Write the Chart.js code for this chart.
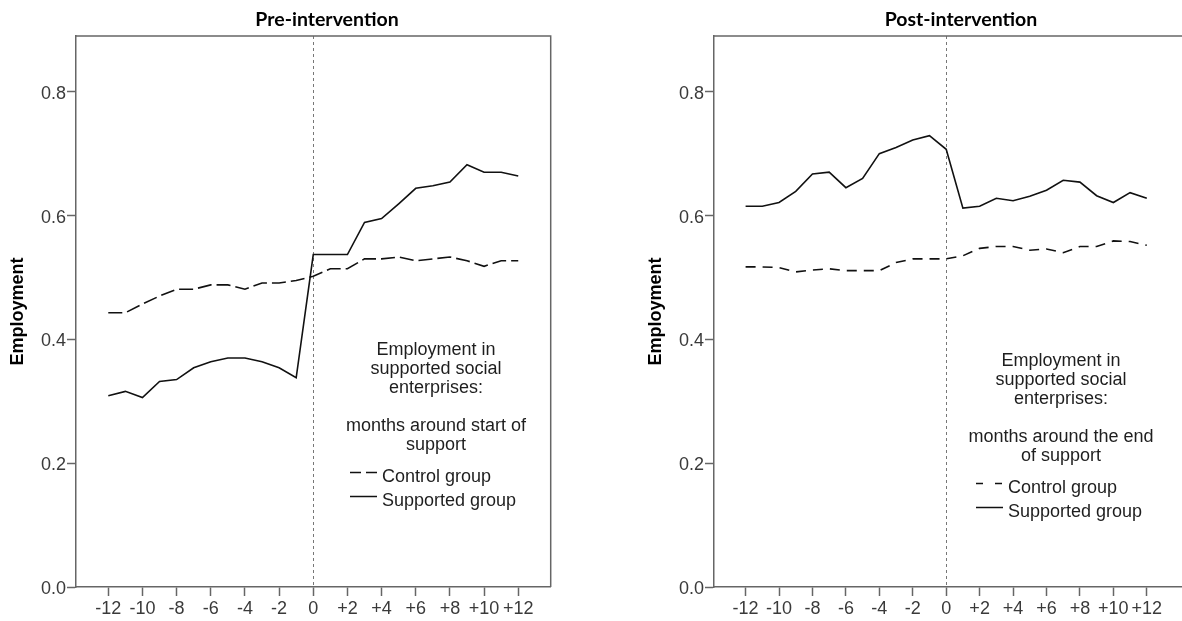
<!DOCTYPE html>
<html><head><meta charset="utf-8">
<script src="https://cdn.jsdelivr.net/npm/chart.js@4.4.1/dist/chart.umd.min.js"></script>
<style>
html,body{margin:0;padding:0;background:#fff;overflow:hidden;width:1182px;height:621px;}
.wrap{position:absolute;top:0;width:591px;height:621px;}
#w1{left:0;}
#w2{left:591px;}
canvas{display:block;}
</style></head><body>
<div class="wrap" id="w1"><canvas id="c1" width="591" height="621"></canvas></div>
<div class="wrap" id="w2"><canvas id="c2" width="591" height="621"></canvas></div>
<script>
// ---- data ----
const months = [-12,-11,-10,-9,-8,-7,-6,-5,-4,-3,-2,-1,0,1,2,3,4,5,6,7,8,9,10,11,12];
const xTickValues = [-12,-10,-8,-6,-4,-2,0,2,4,6,8,10,12];
const xTickLabels = ['-12','-10','-8','-6','-4','-2','0','+2','+4','+6','+8','+10','+12'];
const yTickValues = [0,0.2,0.4,0.6,0.8];
const yTickLabels = ['0.0','0.2','0.4','0.6','0.8'];
const seriesNames = ['Control group','Supported group'];

const preControl   = [0.443,0.443,0.457,0.470,0.481,0.481,0.488,0.488,0.481,0.491,0.491,0.495,0.502,0.514,0.514,0.530,0.530,0.533,0.527,0.530,0.533,0.527,0.518,0.527,0.527];
const preSupported = [0.309,0.316,0.306,0.332,0.335,0.354,0.364,0.370,0.370,0.364,0.354,0.338,0.537,0.537,0.537,0.589,0.595,0.619,0.644,0.648,0.654,0.682,0.670,0.670,0.664];
const postControl   = [0.517,0.517,0.516,0.509,0.512,0.514,0.511,0.511,0.511,0.524,0.530,0.530,0.530,0.535,0.547,0.550,0.550,0.544,0.546,0.540,0.550,0.550,0.559,0.558,0.552];
const postSupported = [0.615,0.615,0.621,0.639,0.667,0.670,0.645,0.660,0.700,0.710,0.722,0.729,0.707,0.612,0.615,0.628,0.624,0.631,0.641,0.657,0.654,0.632,0.621,0.637,0.628];

const preTitle = 'Pre-intervention';
const postTitle = 'Post-intervention';
const yTitle = 'Employment';
const preLegendTitle = ['Employment in','supported social','enterprises:','','months around start of','support'];
const postLegendTitle = ['Employment in','supported social','enterprises:','','months around the end','of support'];

// ---- styling ----
const AXIS = '#666';
const TXT = '#3a3a3a';
const LINE = '#111';
const SANS = "'Liberation Sans', Arial, sans-serif";

const boxPlugin = {
  id: 'boxAndRef',
  beforeDatasetsDraw(chart, args, o) {
    const {ctx, chartArea: a, scales} = chart;
    ctx.save();
    // reference line at month 0
    const x0 = scales.x.getPixelForValue(0);
    ctx.strokeStyle = '#777'; ctx.lineWidth = 1; ctx.setLineDash([3,3]);
    ctx.beginPath(); ctx.moveTo(Math.round(x0)+0.5, a.top); ctx.lineTo(Math.round(x0)+0.5, a.bottom); ctx.stroke();
    ctx.setLineDash([]);
    ctx.strokeStyle = AXIS; ctx.lineWidth = 1.5;
    ctx.beginPath();
    ctx.moveTo(a.left, a.top); ctx.lineTo(a.right + (o.rightSide ? 0 : 2), a.top);
    if (o.rightSide) ctx.lineTo(a.right, a.bottom);
    ctx.stroke();
    ctx.restore();
  },
  afterDraw(chart, args, o) {
    const ctx = chart.ctx;
    ctx.save();
    // chart title
    ctx.fillStyle = '#000';
    ctx.font = "bold 19.5px Lato, 'Open Sans', sans-serif";
    ctx.textAlign = 'center'; ctx.textBaseline = 'alphabetic';
    ctx.fillText(o.title, o.titleX, 26);
    // legend block
    ctx.fillStyle = '#1e1e1e';
    ctx.font = '18px ' + SANS;
    o.legendLines.forEach((t, i) => { if (t) ctx.fillText(t, o.legX, o.legY + i * o.legGap); });
    ctx.textAlign = 'left';
    chart.data.datasets.forEach((ds, i) => {
      const by = o.itemY + i * 24;
      ctx.strokeStyle = ds.borderColor; ctx.lineWidth = 1.5;
      ctx.setLineDash(ds.borderDash && ds.borderDash.length ? o.sampleDash : []);
      ctx.beginPath(); ctx.moveTo(o.sampleX, by - 9.5); ctx.lineTo(o.sampleX + 27, by - 9.5); ctx.stroke();
      ctx.setLineDash([]);
      ctx.fillText(ds.label, o.sampleX + 32, by);
    });
    ctx.restore();
  }
};

function makeChart(id, control, supported, cfg) {
  const toXY = arr => months.map((m, i) => ({x: m, y: arr[i]}));
  return new Chart(document.getElementById(id), {
    type: 'line',
    data: {
      datasets: [
        {label: seriesNames[0], data: toXY(control), borderColor: LINE, borderWidth: 1.6, borderDash: cfg.dash, pointRadius: 0, tension: 0, fill: false},
        {label: seriesNames[1], data: toXY(supported), borderColor: LINE, borderWidth: 1.6, pointRadius: 0, tension: 0, fill: false}
      ]
    },
    options: {
      responsive: false, animation: false, devicePixelRatio: 1, events: [],
      layout: {padding: {left: 0, right: cfg.padRight, top: 36, bottom: 0}},
      plugins: {
        legend: {display: false}, tooltip: {enabled: false}, title: {display: false},
        boxAndRef: cfg.plugin
      },
      scales: {
        x: {
          type: 'linear', min: cfg.xmin, max: cfg.xmax,
          afterFit: s => { s.height = 34; },
          afterBuildTicks: s => { s.ticks = xTickValues.map(v => ({value: v})); },
          ticks: {autoSkip: false, maxRotation: 0, minRotation: 0, padding: 2, color: TXT,
                  font: {family: SANS, size: 18},
                  callback: (v, i) => xTickLabels[i]},
          grid: {display: true, drawOnChartArea: false, drawTicks: true, tickLength: 9, tickColor: AXIS, tickWidth: 1.5},
          border: {display: true, color: AXIS, width: 1.5}
        },
        y: {
          type: 'linear', min: 0, max: 0.89,
          afterFit: s => { s.width = cfg.yWidth; },
          afterBuildTicks: s => { s.ticks = yTickValues.map(v => ({value: v})); },
          ticks: {autoSkip: false, padding: 1, labelOffset: 2, color: TXT,
                  font: {family: SANS, size: 18},
                  callback: (v, i) => yTickLabels[i]},
          grid: {display: true, drawOnChartArea: false, drawTicks: true, tickLength: 9, tickColor: AXIS, tickWidth: 1.5},
          border: {display: true, color: AXIS, width: 1.5},
          title: {display: true, text: yTitle, color: '#000', font: {family: SANS, size: 18, weight: 'bold'},
                  padding: {top: cfg.yTitlePad, bottom: 0}}
        }
      }
    },
    plugins: [boxPlugin]
  });
}

makeChart('c1', preControl, preSupported, {
  dash: [14, 5], padRight: 40.3, xmin: -13.89, xmax: 13.9, yWidth: 76, yTitlePad: 7.5,
  plugin: {rightSide: true, title: preTitle, titleX: 327, legendLines: preLegendTitle,
           legX: 436, legY: 355, legGap: 19, itemY: 482, sampleX: 350, sampleDash: [11, 5]}
});
makeChart('c2', postControl, postSupported, {
  dash: [10, 7], padRight: 0, xmin: -13.89, xmax: 14.106, yWidth: 123, yTitlePad: 54.5,
  plugin: {rightSide: false, title: postTitle, titleX: 370, legendLines: postLegendTitle,
           legX: 470, legY: 366, legGap: 19, itemY: 493, sampleX: 385, sampleDash: [7, 12]}
});
</script>
</body></html>
